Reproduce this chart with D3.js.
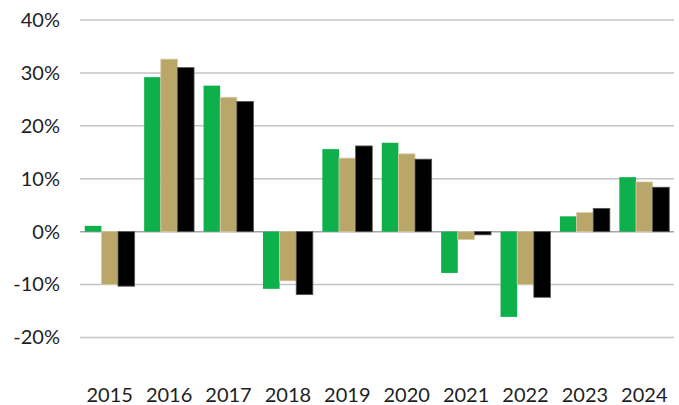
<!DOCTYPE html>
<html lang="en">
<head>
<meta charset="UTF-8">
<title>Annual returns</title>
<script src="https://cdn.jsdelivr.net/npm/d3@7/dist/d3.min.js"></script>
<style>
  body { margin: 0; background: #fff; }
  text { font-family: "Lato", "Noto Sans", sans-serif; fill: #1e1e1e; }
</style>
</head>
<body>
<div id="chart"></div>
<script>
    var width = 679, height = 405,
        margin = {top: 20, right: 5, bottom: 67, left: 80};

    // data
    var years = ["2015","2016","2017","2018","2019","2020","2021","2022","2023","2024"];
    var seriesA = [1.1, 29.2, 27.6, -10.8, 15.6, 16.8, -7.8, -16.1, 2.9, 10.3];
    var seriesB = [-10.0, 32.6, 25.4, -9.3, 13.9, 14.7, -1.5, -10.0, 3.6, 9.4];
    var seriesC = [-10.3, 31.0, 24.6, -11.9, 16.2, 13.7, -0.6, -12.4, 4.4, 8.4];
    var yTicks = [-20, -10, 0, 10, 20, 30, 40];

    var series = [
        {key: "a", values: seriesA, fill: "#0db04b", stroke: "none"},
        {key: "b", values: seriesB, fill: "#bba66a", stroke: "#d8cba6"},
        {key: "c", values: seriesC, fill: "#000000", stroke: "#555555"}
    ];

    var svg = d3.select("#chart").append("svg")
        .attr("width", width)
        .attr("height", height);

    var x0 = d3.scaleBand()
        .domain(years)
        .range([margin.left, width - margin.right])
        .paddingInner(0.16)
        .paddingOuter(0.08);

    var x1 = d3.scaleBand()
        .domain(series.map(function(s){ return s.key; }))
        .range([0, x0.bandwidth()]);

    var y = d3.scaleLinear()
        .domain([-20, 40])
        .range([337.5, 20]);

    // gridlines
    svg.append("g").selectAll("line")
        .data(yTicks)
        .enter().append("line")
        .attr("x1", margin.left)
        .attr("x2", width - margin.right)
        .attr("y1", function(d){ return y(d); })
        .attr("y2", function(d){ return y(d); })
        .attr("stroke", function(d){ return d === 0 ? "#a6a6a6" : "#c4c4c4"; })
        .attr("stroke-width", 1.5);

    // y axis labels
    var yAxis = svg.append("g")
        .attr("transform", "translate(" + margin.left + ",0)")
        .call(d3.axisLeft(y).tickValues(yTicks).tickSize(0).tickPadding(20)
            .tickFormat(function(d){ return d + "%"; }));
    yAxis.select(".domain").remove();
    yAxis.selectAll("text").attr("font-size", 20);

    // bars
    var groups = svg.append("g").selectAll("g")
        .data(years)
        .enter().append("g")
        .attr("transform", function(d){ return "translate(" + x0(d) + ",0)"; });

    groups.selectAll("rect")
        .data(function(d, i){
            return series.map(function(s){ return {key: s.key, v: s.values[i], fill: s.fill, stroke: s.stroke}; });
        })
        .enter().append("rect")
        .attr("x", function(d){ return x1(d.key); })
        .attr("width", x1.bandwidth())
        .attr("y", function(d){ return y(Math.max(0, d.v)); })
        .attr("height", function(d){ return Math.abs(y(d.v) - y(0)); })
        .attr("fill", function(d){ return d.fill; })
        .attr("stroke", function(d){ return d.stroke; })
        .attr("stroke-width", 0.8);

    // x axis labels
    var xAxis = svg.append("g")
        .attr("transform", "translate(0,388)")
        .call(d3.axisBottom(x0).tickSize(0).tickPadding(0));
    xAxis.select(".domain").remove();
    xAxis.selectAll("text").attr("font-size", 20);
</script>
</body>
</html>
